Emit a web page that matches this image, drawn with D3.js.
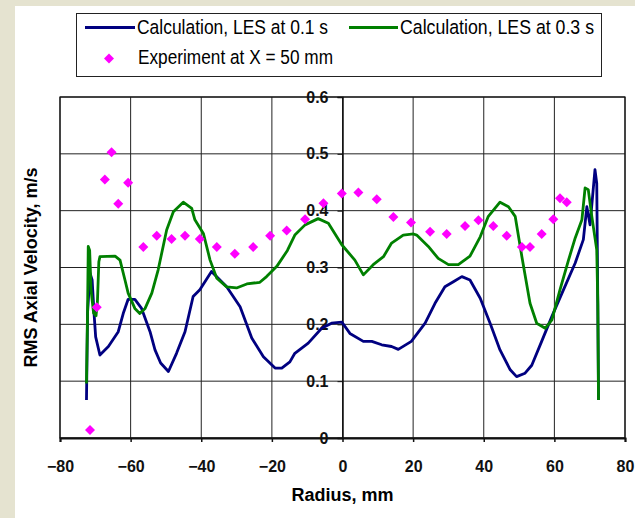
<!DOCTYPE html>
<html>
<head>
<meta charset="utf-8">
<script src="https://cdn.jsdelivr.net/npm/d3@7"></script>
<style>
  body { margin: 0; background: #e5e3d0; }
  text { font-family: Arial, "Liberation Sans", sans-serif; }
</style>
</head>
<body>
<script>
// values
var expX = [-71.5, -69.6, -67.3, -65.4, -63.5, -60.7, -56.4, -52.6, -48.4, -44.6, -40.4, -35.6, -30.5, -25.3, -20.5, -15.8, -10.6, -5.4, -0.2, 4.5, 9.7, 14.4, 19.4, 24.8, 29.5, 34.7, 38.5, 42.7, 46.5, 50.8, 53.1, 56.4, 59.7, 61.6, 63.5];
var expY = [0.014, 0.230, 0.455, 0.503, 0.412, 0.449, 0.336, 0.356, 0.350, 0.356, 0.350, 0.336, 0.324, 0.336, 0.356, 0.365, 0.385, 0.413, 0.430, 0.432, 0.420, 0.389, 0.379, 0.363, 0.359, 0.373, 0.383, 0.373, 0.356, 0.336, 0.336, 0.359, 0.385, 0.422, 0.415];

var les1X = [-72.5, -72.2, -71.5, -70.9, -70.3, -69.9, -68.7, -66.3, -63.5, -62.1, -60.7, -58.8, -56.9, -54.5, -53.1, -51.5, -49.3, -47.0, -44.6, -42.3, -40.4, -37.1, -32.8, -29.0, -25.7, -22.4, -19.1, -17.2, -14.9, -13.5, -9.7, -5.9, -3.1, -0.2, 2.1, 5.9, 8.3, 11.1, 13.9, 15.8, 19.5, 23.4, 26.2, 29.0, 31.4, 33.8, 36.1, 39.0, 41.8, 44.6, 47.5, 49.3, 51.7, 53.6, 56.4, 59.3, 62.6, 65.9, 68.2, 69.2, 70.1, 71.5, 72.0, 72.3, 72.5];
var les1Y = [0.067, 0.22, 0.29, 0.278, 0.214, 0.178, 0.146, 0.161, 0.187, 0.219, 0.244, 0.244, 0.228, 0.187, 0.155, 0.132, 0.117, 0.149, 0.187, 0.249, 0.261, 0.293, 0.266, 0.231, 0.176, 0.143, 0.123, 0.123, 0.134, 0.149, 0.167, 0.193, 0.202, 0.204, 0.184, 0.170, 0.170, 0.164, 0.161, 0.156, 0.170, 0.202, 0.237, 0.266, 0.275, 0.284, 0.278, 0.246, 0.202, 0.155, 0.120, 0.108, 0.114, 0.128, 0.170, 0.214, 0.261, 0.308, 0.349, 0.407, 0.375, 0.472, 0.448, 0.237, 0.067];

var les3X = [-72.5, -72.2, -72.0, -71.6, -71.2, -70.5, -69.8, -69.4, -69.0, -68.7, -64.4, -63.0, -61.6, -60.7, -58.8, -57.4, -55.9, -54.0, -52.2, -49.8, -47.9, -45.1, -42.7, -41.8, -39.4, -37.5, -35.6, -32.8, -30.0, -27.1, -23.4, -21.5, -18.6, -15.6, -13.5, -10.6, -6.9, -4.0, -0.2, 3.5, 5.9, 8.7, 11.6, 13.9, 17.2, 20.1, 21.0, 24.3, 27.1, 30.0, 32.8, 36.1, 39.0, 41.3, 44.6, 47.0, 48.9, 50.8, 53.1, 55.0, 57.4, 59.3, 61.6, 64.0, 65.9, 67.8, 68.7, 69.6, 70.6, 72.0, 72.3, 72.5];
var les3Y = [0.096, 0.22, 0.337, 0.33, 0.26, 0.22, 0.215, 0.24, 0.31, 0.319, 0.320, 0.313, 0.278, 0.255, 0.228, 0.219, 0.228, 0.255, 0.296, 0.366, 0.398, 0.415, 0.404, 0.384, 0.360, 0.313, 0.281, 0.266, 0.264, 0.271, 0.274, 0.284, 0.302, 0.330, 0.357, 0.375, 0.386, 0.378, 0.340, 0.313, 0.287, 0.305, 0.319, 0.343, 0.357, 0.359, 0.357, 0.337, 0.316, 0.305, 0.305, 0.320, 0.354, 0.390, 0.415, 0.407, 0.390, 0.319, 0.237, 0.202, 0.193, 0.208, 0.261, 0.313, 0.352, 0.384, 0.440, 0.437, 0.390, 0.331, 0.237, 0.067];

var xTicks = [-80, -60, -40, -20, 0, 20, 40, 60, 80];
var yTicks = [0, 0.1, 0.2, 0.3, 0.4, 0.5, 0.6];
var seriesNames = ["Calculation, LES at 0.1 s", "Calculation, LES at 0.3 s", "Experiment at X = 50 mm"];

var W = 635, H = 518;
var plot = {left: 60, right: 625, top: 97, bottom: 438};

var svg = d3.select("body").append("svg")
  .attr("width", W)
  .attr("height", H);

// white chart panel over the textured page
svg.append("rect")
  .attr("x", 15).attr("y", 6)
  .attr("width", W - 15).attr("height", H - 6)
  .attr("fill", "white");

var x = d3.scaleLinear().domain([-80, 80]).range([plot.left, plot.right]);
var y = d3.scaleLinear().domain([0, 0.6]).range([plot.bottom, plot.top]);

// gridlines
svg.append("g").selectAll("line.v")
  .data(xTicks).enter().append("line")
  .attr("x1", d => x(d)).attr("x2", d => x(d))
  .attr("y1", plot.top).attr("y2", plot.bottom)
  .attr("stroke", "#222").attr("stroke-width", 1);

svg.append("g").selectAll("line.h")
  .data(yTicks).enter().append("line")
  .attr("x1", plot.left).attr("x2", plot.right)
  .attr("y1", d => y(d)).attr("y2", d => y(d))
  .attr("stroke", "#222").attr("stroke-width", 1);

// frame
svg.append("rect")
  .attr("x", plot.left).attr("y", plot.top)
  .attr("width", plot.right - plot.left).attr("height", plot.bottom - plot.top)
  .attr("fill", "none").attr("stroke", "#111").attr("stroke-width", 1.2);

// x axis at bottom
var xAxis = d3.axisBottom(x).tickValues(xTicks).tickSize(4).tickFormat(d3.format("d"));
var gx = svg.append("g")
  .attr("transform", "translate(0," + plot.bottom + ")")
  .call(xAxis);
gx.select(".domain").attr("stroke", "#111").attr("stroke-width", 2);
gx.selectAll(".tick line").attr("stroke", "#111").attr("stroke-width", 1.5);
gx.selectAll("text")
  .attr("y", 34).attr("dy", 0)
  .style("font-size", "16px").style("font-weight", "bold")
  .style("font-family", "Arial, 'Liberation Sans', sans-serif")
  .attr("fill", "#111");

// y axis sits at radius 0
var yAxis = d3.axisLeft(y).tickValues(yTicks).tickSize(5)
  .tickFormat(d => d === 0 ? "0" : d3.format(".1f")(d));
var gy = svg.append("g")
  .attr("transform", "translate(" + x(0) + ",0)")
  .call(yAxis);
gy.select(".domain").attr("stroke", "#111").attr("stroke-width", 1.5);
gy.selectAll(".tick line").attr("stroke", "#111");
gy.selectAll("text")
  .attr("x", -14)
  .style("font-size", "16px").style("font-weight", "bold")
  .style("font-family", "Arial, 'Liberation Sans', sans-serif")
  .attr("fill", "#111");

// axis titles
svg.append("text")
  .attr("x", x(0)).attr("y", 501)
  .attr("text-anchor", "middle")
  .style("font-size", "18px").style("font-weight", "bold")
  .text("Radius, mm");

svg.append("text")
  .attr("transform", "rotate(-90)")
  .attr("x", -(plot.top + plot.bottom) / 2)
  .attr("y", 37)
  .attr("text-anchor", "middle")
  .style("font-size", "18px").style("font-weight", "bold")
  .text("RMS Axial Velocity, m/s");

// lines
var line = d3.line()
  .x(d => x(d[0]))
  .y(d => y(d[1]));

svg.append("path")
  .attr("d", line(d3.zip(les1X, les1Y)))
  .attr("fill", "none").attr("stroke", "#000080")
  .attr("stroke-width", 2.8).attr("stroke-linejoin", "round");

svg.append("path")
  .attr("d", line(d3.zip(les3X, les3Y)))
  .attr("fill", "none").attr("stroke", "#008000")
  .attr("stroke-width", 2.8).attr("stroke-linejoin", "round");

// experiment diamonds
var diamond = d3.symbol().type(d3.symbolSquare).size(50);
svg.append("g").selectAll("path")
  .data(d3.zip(expX, expY)).enter().append("path")
  .attr("d", diamond)
  .attr("transform", d => "translate(" + x(d[0]) + "," + y(d[1]) + ") rotate(45)")
  .attr("fill", "#ff00ff");

// legend (narrow, tall lettering in the original)
var lg = svg.append("g");
lg.append("rect")
  .attr("x", 76.5).attr("y", 13.5).attr("width", 525).attr("height", 63)
  .attr("fill", "white").attr("stroke", "#222").attr("stroke-width", 1);

lg.append("line").attr("x1", 85).attr("x2", 135).attr("y1", 27.5).attr("y2", 27.5)
  .attr("stroke", "#000080").attr("stroke-width", 3);
lg.append("text").attr("x", 137).attr("y", 33.5)
  .attr("textLength", 191).attr("lengthAdjust", "spacingAndGlyphs")
  .style("font-size", "20.5px").text(seriesNames[0]);

lg.append("line").attr("x1", 349).attr("x2", 398).attr("y1", 27.5).attr("y2", 27.5)
  .attr("stroke", "#008000").attr("stroke-width", 3);
lg.append("text").attr("x", 400).attr("y", 33.5)
  .attr("textLength", 194).attr("lengthAdjust", "spacingAndGlyphs")
  .style("font-size", "20.5px").text(seriesNames[1]);

lg.append("path").attr("d", diamond)
  .attr("transform", "translate(109,58.5) rotate(45)")
  .attr("fill", "#ff00ff");
lg.append("text").attr("x", 138).attr("y", 63.5)
  .attr("textLength", 195).attr("lengthAdjust", "spacingAndGlyphs")
  .style("font-size", "20.5px").text(seriesNames[2]);
</script>
</body>
</html>
